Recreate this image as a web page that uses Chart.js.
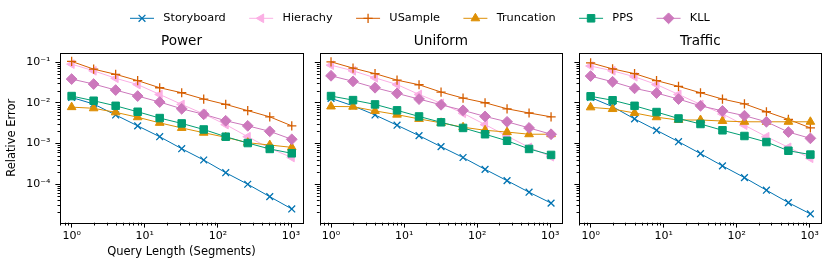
<!DOCTYPE html>
<html>
<head>
<meta charset="utf-8">
<script src="https://cdn.jsdelivr.net/npm/chart.js@4.4.1/dist/chart.umd.min.js"></script>
<style>
  html, body { margin: 0; padding: 0; background: #fff; }
  #wrap { position: relative; width: 830px; height: 268px; }
  #wrap canvas { position: absolute; left: 0; top: 0; }
</style>
</head>
<body>
<div id="wrap">
  <canvas id="c-power" width="830" height="268"></canvas>
  <canvas id="c-uniform" width="830" height="268"></canvas>
  <canvas id="c-traffic" width="830" height="268"></canvas>
</div>
<script>
const queryLengths = [1, 2, 4, 8, 16, 32, 64, 128, 256, 512, 1024];
const methods = ['Storyboard', 'Hierachy', 'USample', 'Truncation', 'PPS', 'KLL'];
const panelTitles = ['Power', 'Uniform', 'Traffic'];
const xMajorTicks = [1, 10, 100, 1000];
const yMajorTicks = [1e-4, 1e-3, 1e-2, 1e-1];

// Power
const powerStoryboard = [0.0135, 0.0093, 0.005, 0.0027, 0.00146, 0.00074, 0.00039, 0.00019, 0.0000989, 0.000049, 0.0000244];
const powerHierachy = [0.089, 0.061, 0.040, 0.028, 0.016, 0.0091, 0.0053, 0.0029, 0.00146, 0.00076, 0.00045];
const powerUSample = [0.104, 0.067, 0.050, 0.035, 0.0234, 0.0176, 0.0123, 0.0091, 0.0064, 0.0045, 0.0027];
const powerTruncation = [0.0078, 0.0073, 0.0058, 0.0044, 0.0032, 0.0024, 0.00183, 0.00141, 0.00104, 0.00091, 0.0008];
const powerPPS = [0.0146, 0.0112, 0.0084, 0.006, 0.0042, 0.0031, 0.0022, 0.00146, 0.00102, 0.00073, 0.00057];
const powerKLL = [0.0382, 0.0288, 0.0205, 0.0146, 0.0104, 0.0071, 0.0052, 0.0036, 0.0027, 0.00198, 0.00126];

// Uniform
const uniformStoryboard = [0.0128, 0.0084, 0.005, 0.0028, 0.00155, 0.00083, 0.00045, 0.00023, 0.000121, 0.000063, 0.000034];
const uniformHierachy = [0.084, 0.061, 0.041, 0.028, 0.016, 0.0097, 0.0055, 0.0029, 0.00152, 0.0008, 0.00047];
const uniformUSample = [0.1016, 0.071, 0.052, 0.036, 0.0277, 0.0183, 0.013, 0.01, 0.0071, 0.0056, 0.0045];
const uniformTruncation = [0.0081, 0.008, 0.0063, 0.0051, 0.0040, 0.0032, 0.0025, 0.0021, 0.0019, 0.00168, 0.00168];
const uniformPPS = [0.0146, 0.0116, 0.0091, 0.0065, 0.0046, 0.0033, 0.0024, 0.00168, 0.00116, 0.00073, 0.00052];
const uniformKLL = [0.046, 0.0336, 0.0234, 0.017, 0.0123, 0.0089, 0.0065, 0.0046, 0.0034, 0.0024, 0.00168];

// Traffic
const trafficStoryboard = [0.0135, 0.008, 0.004, 0.0021, 0.0011, 0.00056, 0.00028, 0.000144, 0.0000705, 0.0000349, 0.0000184];
const trafficHierachy = [0.080, 0.061, 0.0435, 0.028, 0.016, 0.0091, 0.0053, 0.0028, 0.00146, 0.0008, 0.00043];
const trafficUSample = [0.096, 0.068, 0.052, 0.035, 0.0253, 0.0176, 0.0123, 0.0094, 0.006, 0.0039, 0.0024];
const trafficTruncation = [0.0077, 0.007, 0.0056, 0.0044, 0.00376, 0.00376, 0.00355, 0.0034, 0.0034, 0.0034, 0.0034];
const trafficPPS = [0.0144, 0.0115, 0.0084, 0.0059, 0.0041, 0.003, 0.0021, 0.00152, 0.00108, 0.00066, 0.00053];
const trafficKLL = [0.0453, 0.0328, 0.0226, 0.0173, 0.0123, 0.0084, 0.0063, 0.0048, 0.0034, 0.0019, 0.00133];

const panelSeries = [
    [powerStoryboard, powerHierachy, powerUSample, powerTruncation, powerPPS, powerKLL],
    [uniformStoryboard, uniformHierachy, uniformUSample, uniformTruncation, uniformPPS, uniformKLL],
    [trafficStoryboard, trafficHierachy, trafficUSample, trafficTruncation, trafficPPS, trafficKLL]
];

// styles (seaborn colorblind palette)
const styles = [
    { color: '#0173b2', pointStyle: 'crossRot', rotation: 0, radius: 4.8, width: 1.3 },
    { color: '#fbafe4', pointStyle: 'triangle', rotation: -90, radius: 5, width: 1 },
    { color: '#d55e00', pointStyle: 'cross', rotation: 0, radius: 4.6, width: 1.3 },
    { color: '#de8f05', pointStyle: 'triangle', rotation: 0, radius: 5, width: 1 },
    { color: '#029e73', pointStyle: 'rect', rotation: 0, radius: 5.3, width: 1 },
    { color: '#cc78bc', pointStyle: 'rectRot', rotation: 0, radius: 5.4, width: 1 }
];

// plot areas of the three panels (px)
const areaLefts = [60.3, 319.7, 579.3];
const areaRights = [302.7, 562, 821.3];
const areaTop = 52.7;
const areaBottom = 222.7;
const W = 830, H = 268;

Chart.defaults.font.family = "'DejaVu Sans', sans-serif";
Chart.defaults.color = '#000';

const supMap = { '-': '\u207b', '0': '\u2070', '1': '\u00b9', '2': '\u00b2', '3': '\u00b3', '4': '\u2074', '5': '\u2075' };
function powLabel(v) {
    const e = Math.round(Math.log10(v));
    return '10' + String(e).split('').map(c => supMap[c]).join('');
}

function drawMarker(ctx, st, x, y) {
    ctx.save();
    ctx.fillStyle = st.color;
    ctx.strokeStyle = st.color;
    ctx.lineWidth = st.width;
    Chart.helpers.drawPoint(ctx, { pointStyle: st.pointStyle, rotation: st.rotation, radius: st.radius, borderWidth: st.width }, x, y);
    ctx.restore();
}

// frame + minor ticks like matplotlib log axes
const framePlugin = {
    id: 'frame',
    afterDraw(chart) {
        const ctx = chart.ctx;
        const a = chart.chartArea;
        ctx.save();
        ctx.strokeStyle = '#000';
        ctx.lineWidth = 1;
        ctx.beginPath();

        const xs = chart.scales.x;
        for (let e = -1; e <= 3; e++) {
            for (let k = 2; k <= 9; k++) {
                const v = k * Math.pow(10, e);
                if (v < xs.min || v > xs.max) continue;
                const px = Math.round(xs.getPixelForValue(v)) + 0.5;
                ctx.moveTo(px, a.bottom);
                ctx.lineTo(px, a.bottom + 2.8);
            }
        }
        const ys = chart.scales.y;
        for (let e = -6; e <= -1; e++) {
            for (let k = 2; k <= 9; k++) {
                const v = k * Math.pow(10, e);
                if (v < ys.min || v > ys.max) continue;
                const py = Math.round(ys.getPixelForValue(v)) + 0.5;
                ctx.moveTo(a.left, py);
                ctx.lineTo(a.left - 2.8, py);
            }
        }
        ctx.stroke();

        ctx.strokeRect(Math.round(a.left) + 0.5, Math.round(a.top) + 0.5,
            Math.round(a.right) - Math.round(a.left), Math.round(a.bottom) - Math.round(a.top));
        ctx.restore();
    }
};

// shared legend across the top of the figure
const legendPlugin = {
    id: 'figLegend',
    afterDraw(chart) {
        const ctx = chart.ctx;
        ctx.save();
        ctx.font = "11.3px 'DejaVu Sans', sans-serif";
        ctx.textBaseline = 'middle';
        ctx.fillStyle = '#000';
        let x = 130;
        const y = 18.3;
        methods.forEach((name, i) => {
            const st = styles[i];
            ctx.strokeStyle = st.color;
            ctx.lineWidth = 1;
            ctx.beginPath();
            ctx.moveTo(x, y);
            ctx.lineTo(x + 24, y);
            ctx.stroke();
            drawMarker(ctx, st, x + 12, y);
            ctx.fillStyle = '#000';
            ctx.fillText(name, x + 33.3, y);
            x += 33.3 + ctx.measureText(name).width + 23.4;
        });
        ctx.restore();
    }
};

function makeChart(canvasId, idx) {
    const first = idx === 0;
    const yWidth = first ? areaLefts[0] : 10;
    const xHeight = H - areaBottom;

    const datasets = methods.map((name, k) => {
        const st = styles[k];
        const vals = panelSeries[idx][k];
        return {
            label: name,
            data: queryLengths.map((q, i) => ({ x: q, y: vals[i] })),
            borderColor: st.color,
            backgroundColor: st.color,
            borderWidth: 1,
            pointStyle: st.pointStyle,
            pointRotation: st.rotation,
            pointRadius: st.radius,
            pointBorderWidth: st.width,
            pointBackgroundColor: st.color,
            pointBorderColor: st.color,
            tension: 0,
            order: methods.length - k
        };
    });

    return new Chart(document.getElementById(canvasId), {
        type: 'line',
        data: { datasets: datasets },
        plugins: idx === 2 ? [framePlugin, legendPlugin] : [framePlugin],
        options: {
            responsive: false,
            devicePixelRatio: 1,
            animation: false,
            events: [],
            layout: {
                padding: {
                    left: areaLefts[idx] - yWidth,
                    right: W - areaRights[idx],
                    top: 33.6,
                    bottom: 0
                }
            },
            plugins: {
                legend: { display: false },
                tooltip: { enabled: false },
                title: {
                    display: true,
                    text: panelTitles[idx],
                    fullSize: false,
                    font: { size: 13.6, weight: 'normal' },
                    color: '#000',
                    padding: { top: 0, bottom: 2.9 }
                }
            },
            scales: {
                x: {
                    type: 'logarithmic',
                    position: 'bottom',
                    min: 0.715,
                    max: 1445,
                    afterBuildTicks: s => { s.ticks = xMajorTicks.map(v => ({ value: v, major: true })); },
                    afterFit: s => { s.height = xHeight; },
                    grid: { drawOnChartArea: false, drawTicks: true, tickLength: 4.9, tickColor: '#000', tickWidth: 1 },
                    border: { display: false },
                    ticks: {
                        autoSkip: false,
                        maxRotation: 0,
                        padding: 1.5,
                        font: { size: 11 },
                        color: '#000',
                        callback: v => powLabel(v)
                    },
                    title: {
                        display: first,
                        text: 'Query Length (Segments)',
                        font: { size: 11.5 },
                        color: '#000',
                        padding: { top: 0, bottom: 8.8 }
                    }
                },
                y: {
                    type: 'logarithmic',
                    position: 'left',
                    min: 1.12e-5,
                    max: 0.169,
                    afterBuildTicks: s => { s.ticks = yMajorTicks.map(v => ({ value: v, major: true })); },
                    afterFit: s => { s.width = yWidth; },
                    grid: { drawOnChartArea: false, drawTicks: true, tickLength: 4.9, tickColor: '#000', tickWidth: 1 },
                    border: { display: false },
                    ticks: {
                        autoSkip: false,
                        padding: 4.9,
                        font: { size: 11 },
                        color: '#000',
                        callback: v => first ? powLabel(v) : ''
                    },
                    title: {
                        display: first,
                        text: 'Relative Error',
                        font: { size: 11.5 },
                        color: '#000',
                        padding: { top: 5.1, bottom: 0 }
                    }
                }
            }
        }
    });
}

makeChart('c-power', 0);
makeChart('c-uniform', 1);
makeChart('c-traffic', 2);
</script>
</body>
</html>
